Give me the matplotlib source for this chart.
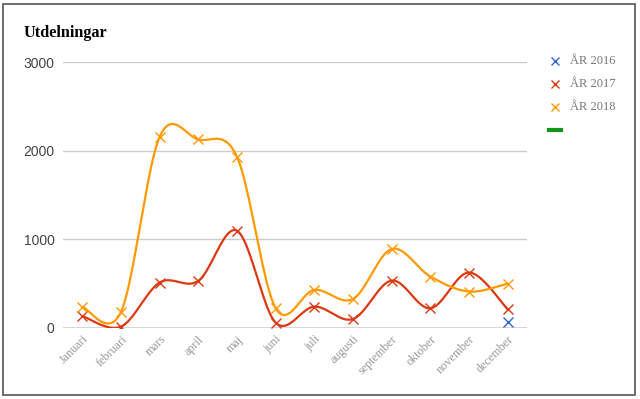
import numpy as np
import matplotlib
matplotlib.use("Agg")
import matplotlib.pyplot as plt
from matplotlib.patches import Rectangle
from matplotlib.lines import Line2D

months = ["Januari", "februari", "mars", "april", "maj", "juni", "juli",
          "augusti", "september", "oktober", "november", "december"]
ar2016 = [None, None, None, None, None, None, None, None, None, None, None, 70]
ar2017 = [132, 12, 510, 529, 1095, 57, 238, 98, 532, 219, 623, 208]
ar2018 = [235, 178, 2156, 2125, 1930, 220, 427, 325, 888, 578, 408, 498]
series_names = ["ÅR 2016", "ÅR 2017", "ÅR 2018"]
colors = ["#3366cc", "#dc3912", "#ff9900"]
extra_color = "#109618"
yticks = [0, 1000, 2000, 3000]


def smooth(xs, ys, n=24):
    pts = [(x, y) for x, y in zip(xs, ys) if y is not None]
    if len(pts) < 2:
        return np.array([p[0] for p in pts]), np.array([p[1] for p in pts])
    P = np.array(pts, dtype=float)
    m = np.zeros_like(P)
    m[1:-1] = (P[2:] - P[:-2]) / 2.0
    m[0] = (P[1] - P[0]) / 2.0
    m[-1] = (P[-1] - P[-2]) / 2.0
    out = []
    t = np.linspace(0, 1, n)
    h00 = 2 * t**3 - 3 * t**2 + 1
    h10 = t**3 - 2 * t**2 + t
    h01 = -2 * t**3 + 3 * t**2
    h11 = t**3 - t**2
    for i in range(len(P) - 1):
        seg = (h00[:, None] * P[i] + h10[:, None] * m[i]
               + h01[:, None] * P[i + 1] + h11[:, None] * m[i + 1])
        out.append(seg if i == 0 else seg[1:])
    out = np.vstack(out)
    return out[:, 0], out[:, 1]


fig = plt.figure(figsize=(6.4, 3.99), dpi=100)
ax = fig.add_axes([63 / 640, 1 - 327.7 / 399, 464 / 640, (327.7 - 62) / 399])

x = np.arange(len(months))
for name, vals, c in zip(series_names, [ar2016, ar2017, ar2018], colors):
    sx, sy = smooth(x, vals)
    if len(sx) > 1:
        ax.plot(sx, sy, color=c, lw=1.6, zorder=3, solid_capstyle="round")
    px = [xi for xi, v in zip(x, vals) if v is not None]
    py = [v for v in vals if v is not None]
    ax.plot(px, py, linestyle="none", marker="x", ms=7, mew=1.0, color=c, zorder=4)

ax.set_xlim(-0.5, len(months) - 0.5)
ax.set_ylim(0, 3000)
ax.set_yticks(yticks)
ax.set_yticklabels([str(v) for v in yticks], fontsize=10, color="#444444",
                   family="Liberation Sans")
ax.set_xticks(x)
ax.set_xticklabels(months, rotation=45, ha="right", rotation_mode="anchor",
                   fontsize=8.7, color="#999999", family="Liberation Serif")
ax.tick_params(axis="both", length=0, pad=6)
ax.tick_params(axis="x", pad=4)
for yv in yticks[1:]:
    ax.axhline(yv, color="#cccccc", lw=1, zorder=1)
ax.axhline(0, color="#333333", lw=1, zorder=2)
for s in ax.spines.values():
    s.set_visible(False)
ax.set_facecolor("none")

fig.text(24 / 640, 1 - 33 / 399, "Utdelningar", fontsize=11.7, fontweight="bold",
         family="Liberation Serif", color="#000000", va="center")

# legend
leg_y = [61, 84, 107]
for name, c, ly in zip(series_names, colors, leg_y):
    fig.add_artist(Line2D([555 / 640], [1 - ly / 399], marker="x", ms=6, mew=1.0,
                          color=c, linestyle="none"))
    fig.text(570 / 640, 1 - ly / 399, name, fontsize=9, color="#777777",
             family="Liberation Serif", va="center")
fig.add_artist(Line2D([549 / 640, 561 / 640], [1 - 130 / 399, 1 - 130 / 399],
                      color=extra_color, lw=3))

fig.add_artist(Rectangle((3 / 640, 1 - 395 / 399), 632 / 640, 391 / 399,
                         fill=False, edgecolor="#555555", lw=1.2,
                         transform=fig.transFigure))

fig.savefig("out.png", dpi=100)
